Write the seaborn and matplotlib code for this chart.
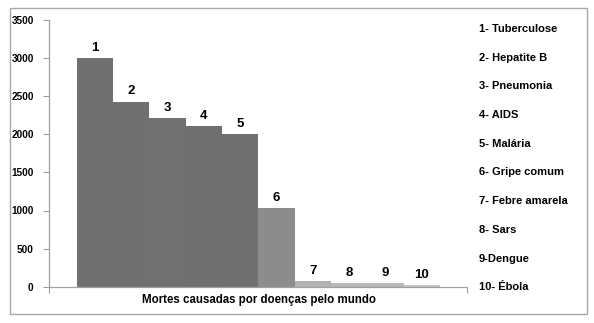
import matplotlib
matplotlib.use("Agg")
import matplotlib.pyplot as plt
import seaborn as sns
import pandas as pd
from matplotlib.patches import Rectangle

# Deaths caused by diseases worldwide (thousands)
ranks = ["1", "2", "3", "4", "5", "6", "7", "8", "9", "10"]
deaths = [3000, 2430, 2215, 2105, 2000, 1030, 75, 45, 45, 18]
bar_colors = ["#707070", "#707070", "#717171", "#6f6f6f", "#707070",
              "#8c8c8c", "#b3b3b3", "#b9b9b9", "#b9b9b9", "#c6c6c6"]
legend_labels = ["1- Tuberculose", "2- Hepatite B", "3- Pneumonia", "4- AIDS",
                 "5- Malária", "6- Gripe comum", "7- Febre amarela", "8- Sars",
                 "9-Dengue", "10- Ébola"]
y_ticks = [0, 500, 1000, 1500, 2000, 2500, 3000, 3500]
x_title = "Mortes causadas por doenças pelo mundo"

sns.set_theme(style="white")
plt.rcParams["font.family"] = ["Liberation Sans", "DejaVu Sans"]
plt.rcParams["font.weight"] = "bold"

df = pd.DataFrame({"rank": ranks, "deaths": deaths})

W, H = 594, 323
fig = plt.figure(figsize=(W / 100, H / 100), dpi=100)
fig.patch.set_facecolor("white")

# outer frame of the chart area
fig.add_artist(Rectangle((10 / W, 1 - 314 / H), 577 / W, 306 / H,
                         transform=fig.transFigure, fill=False,
                         edgecolor="#a8a8a8", linewidth=1.0))

ax = fig.add_axes([49 / W, 1 - 286.7 / H, (467 - 49) / W, (286.7 - 20) / H])
sns.barplot(data=df, x="rank", y="deaths", hue="rank", palette=bar_colors,
            width=1.0, legend=False, saturation=1, ax=ax, linewidth=0)

for cont, lab in zip(ax.containers, ranks):
    ax.bar_label(cont, labels=[lab], padding=3, fontsize=9.5,
                 fontweight="bold", color="black")

ax.set_xlim(-1.262, 10.243)
ax.set_ylim(0, 3500)
ax.set_yticks(y_ticks)
ax.set_yticklabels([str(t) for t in y_ticks], fontsize=7.2, fontweight="bold")
ax.set_xticks([-1.262, 10.243])
ax.set_xticklabels(["", ""])
ax.tick_params(axis="y", length=4, width=0.8, color="#a0a0a0", pad=7,
               left=True, labelcolor="black")
ax.tick_params(axis="x", length=4, width=0.8, color="#a0a0a0", bottom=True)
ax.set_xlabel("")
ax.set_ylabel("")
for side in ["top", "right"]:
    ax.spines[side].set_visible(False)
for side in ["left", "bottom"]:
    ax.spines[side].set_color("#a0a0a0")
    ax.spines[side].set_linewidth(0.9)

fig.text(259 / W, 1 - 300 / H, x_title, ha="center", va="center",
         fontsize=8.3, fontweight="bold", color="black")

# numbered key on the right
for i, lab in enumerate(legend_labels):
    y = 29 + i * 28.7
    fig.text(479 / W, 1 - y / H, lab, ha="left", va="center",
             fontsize=8, fontweight="bold", color="black")

fig.savefig("out.png", dpi=100, facecolor="white")
